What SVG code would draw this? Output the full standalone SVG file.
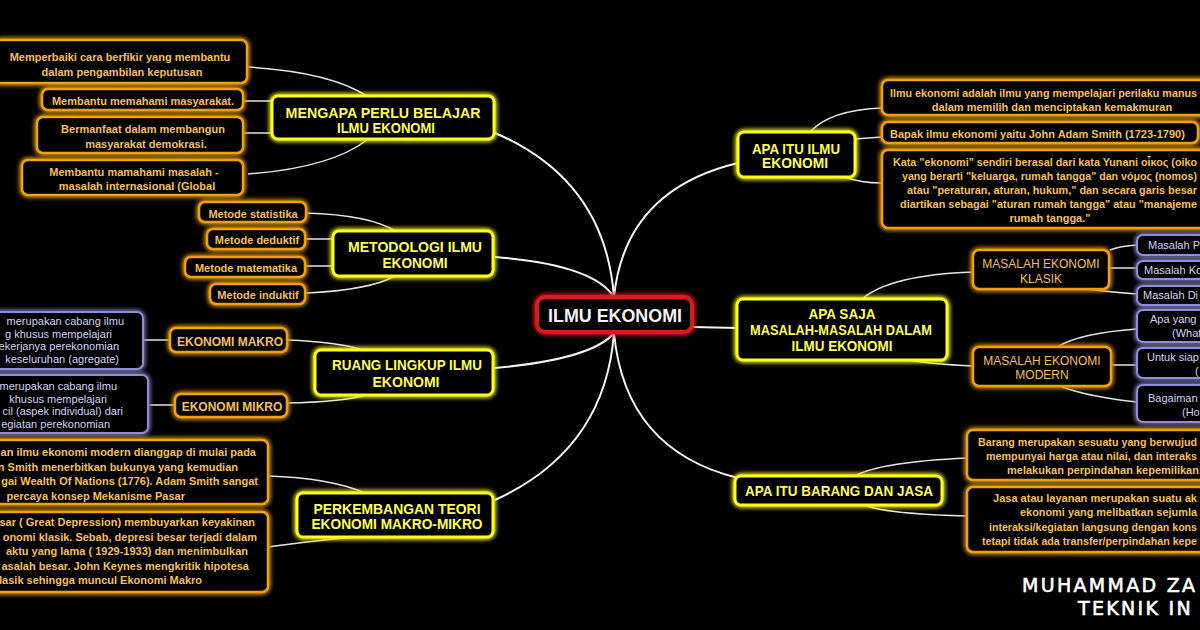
<svg xmlns="http://www.w3.org/2000/svg" width="1200" height="630" viewBox="0 0 1200 630">
<defs>
<filter id="glow" x="-30%" y="-60%" width="160%" height="220%">
<feGaussianBlur in="SourceGraphic" stdDeviation="2.6" result="b"/>
<feMerge><feMergeNode in="b"/><feMergeNode in="b"/><feMergeNode in="SourceGraphic"/></feMerge>
</filter>
<style>
.main rect{fill:#000;stroke:#ffff1a;stroke-width:3;filter:url(#glow)}
.leaf rect{fill:#000;stroke:#f0a20a;stroke-width:2.5;filter:url(#glow)}
.blue rect{fill:#000;stroke:#8e8ed8;stroke-width:2;filter:url(#glow)}
.center rect{fill:#000;stroke:#d41e24;stroke-width:4;filter:url(#glow)}
text{font-family:"Liberation Sans",Arial,sans-serif}
.main text{font-weight:bold;font-size:14px;fill:#ffff4d;text-anchor:middle}
.leaf text{font-weight:bold;font-size:11px;fill:#f5c04e;text-anchor:middle}
.blue text{font-size:11px;fill:#d2d2f6}
.center text{font-weight:bold;font-size:18px;fill:#f4f4f4;text-anchor:middle}
g text.s{text-anchor:start}
g text.e{text-anchor:end}
.conn path{fill:none;stroke:#e4e4e4;stroke-width:1.5}
.conn .m{stroke:#f4f4f4;stroke-width:2}
.author{font-family:"DejaVu Sans",sans-serif;font-size:19px;fill:#fff;stroke:#fff;stroke-width:0.6;letter-spacing:2.3px}
</style>
</defs>
<rect width="1200" height="630" fill="#000"/>

<g id="connectors" class="conn">
<path class="m" d="M495,133 Q605,180 614,297"/>
<path class="m" d="M495,257 C560,262 600,275 614,297"/>
<path class="m" d="M495,368 C560,362 600,350 614,333"/>
<path class="m" d="M495,500 Q605,450 614,333"/>
<path class="m" d="M614,297 Q625,190 738,163"/>
<path class="m" d="M692,327 L738,328"/>
<path class="m" d="M614,333 Q625,450 738,478"/>
<path d="M248,67 Q330,72 367,96"/>
<path d="M243,101 L272,101"/>
<path d="M243,133 L272,133"/>
<path d="M248,174 Q330,168 367,140"/>
<path d="M306,213 Q370,215 395,231"/>
<path d="M305,239 L333,239"/>
<path d="M305,266 L333,266"/>
<path d="M306,293 Q370,290 395,276"/>
<path d="M287,340 Q340,342 367,351"/>
<path d="M287,403 Q340,402 367,395"/>
<path d="M143,340 L170,340"/>
<path d="M148,405 L175,405"/>
<path d="M268,476 Q330,478 365,493"/>
<path d="M268,547 Q320,540 355,537"/>
<path d="M810,132 Q830,110 882,108"/>
<path d="M855,139 L882,137"/>
<path d="M845,177 Q860,183 882,183"/>
<path d="M862,299 Q890,275 973,272"/>
<path d="M910,360 Q930,364 973,366"/>
<path d="M1110,250 Q1120,246 1137,245"/>
<path d="M1109,268 L1137,268"/>
<path d="M1085,289 Q1110,292 1137,294"/>
<path d="M1057,347 Q1080,333 1137,329"/>
<path d="M1111,365 L1137,365"/>
<path d="M1062,387 Q1090,397 1137,402"/>
<path d="M855,476 Q880,462 967,458"/>
<path d="M867,506 Q890,514 967,516"/>
</g>

<g id="n-center" class="center">
<rect x="537" y="297" width="155" height="35" rx="8"/>
<text x="615" y="322" textLength="134" lengthAdjust="spacingAndGlyphs">ILMU EKONOMI</text>
</g>

<g id="n-mengapa" class="main">
<rect x="272" y="96" width="222" height="43" rx="6"/>
<text x="383" y="118" textLength="195" lengthAdjust="spacingAndGlyphs">MENGAPA PERLU BELAJAR</text>
<text x="386" y="133" textLength="98" lengthAdjust="spacingAndGlyphs">ILMU EKONOMI</text>
</g>
<g id="n-metodologi" class="main">
<rect x="333" y="231" width="160" height="45" rx="6"/>
<text x="415" y="252" textLength="134" lengthAdjust="spacingAndGlyphs">METODOLOGI ILMU</text>
<text x="415" y="268" textLength="65" lengthAdjust="spacingAndGlyphs">EKONOMI</text>
</g>
<g id="n-ruang" class="main">
<rect x="315" y="350" width="178" height="45" rx="6"/>
<text x="407" y="370" textLength="150" lengthAdjust="spacingAndGlyphs">RUANG LINGKUP ILMU</text>
<text x="406" y="387" textLength="67" lengthAdjust="spacingAndGlyphs">EKONOMI</text>
</g>
<g id="n-perkembangan" class="main">
<rect x="297" y="493" width="196" height="44" rx="6"/>
<text x="397" y="514" textLength="167" lengthAdjust="spacingAndGlyphs">PERKEMBANGAN TEORI</text>
<text x="397" y="529" textLength="171" lengthAdjust="spacingAndGlyphs">EKONOMI MAKRO-MIKRO</text>
</g>
<g id="n-apaitu" class="main">
<rect x="738" y="132" width="117" height="45" rx="6"/>
<text x="796" y="154" textLength="88" lengthAdjust="spacingAndGlyphs">APA ITU ILMU</text>
<text x="795" y="168" textLength="66" lengthAdjust="spacingAndGlyphs">EKONOMI</text>
</g>
<g id="n-apasaja" class="main">
<rect x="737" y="299" width="210" height="61" rx="6"/>
<text x="842" y="319" textLength="67" lengthAdjust="spacingAndGlyphs">APA SAJA</text>
<text x="841" y="335" textLength="182" lengthAdjust="spacingAndGlyphs">MASALAH-MASALAH DALAM</text>
<text x="842" y="351" textLength="101" lengthAdjust="spacingAndGlyphs">ILMU EKONOMI</text>
</g>
<g id="n-barang" class="main">
<rect x="735" y="476" width="207" height="29" rx="6"/>
<text x="839" y="496" textLength="188" lengthAdjust="spacingAndGlyphs">APA ITU BARANG DAN JASA</text>
</g>

<g id="l-memperbaiki" class="leaf">
<rect x="-6" y="40" width="253" height="43" rx="6"/>
<text x="120" y="61">Memperbaiki cara berfikir yang membantu</text>
<text x="122" y="76">dalam pengambilan keputusan</text>
</g>
<g id="l-masyarakat" class="leaf">
<rect x="42" y="89" width="201" height="21" rx="6"/>
<text x="143" y="105">Membantu memahami masyarakat.</text>
</g>
<g id="l-demokrasi" class="leaf">
<rect x="37" y="117" width="206" height="36" rx="6"/>
<text x="143" y="133">Bermanfaat dalam membangun</text>
<text x="146" y="148">masyarakat demokrasi.</text>
</g>
<g id="l-global" class="leaf">
<rect x="22" y="160" width="221" height="35" rx="6"/>
<text x="134" y="176">Membantu mamahami masalah -</text>
<text x="137" y="190">masalah internasional (Global</text>
</g>

<g id="l-statistika" class="leaf">
<rect x="199" y="202" width="107" height="20" rx="6"/>
<text x="253" y="218">Metode statistika</text>
</g>
<g id="l-deduktif" class="leaf">
<rect x="207" y="229" width="98" height="20" rx="6"/>
<text x="257" y="244">Metode deduktif</text>
</g>
<g id="l-matematika" class="leaf">
<rect x="185" y="257" width="120" height="20" rx="6"/>
<text x="246" y="272">Metode matematika</text>
</g>
<g id="l-induktif" class="leaf">
<rect x="210" y="284" width="95" height="20" rx="6"/>
<text x="258" y="299">Metode induktif</text>
</g>

<g id="l-makro" class="leaf">
<rect x="170" y="328" width="117" height="24" rx="6"/>
<text x="230" y="346" style="font-size:12px">EKONOMI MAKRO</text>
</g>
<g id="l-mikro" class="leaf">
<rect x="175" y="394" width="112" height="23" rx="6"/>
<text x="232" y="411" style="font-size:12px">EKONOMI MIKRO</text>
</g>
<g id="b-makro" class="blue">
<rect x="-20" y="312" width="163" height="57" rx="6"/>
<text class="e" x="124" y="325">merupakan cabang ilmu</text>
<text class="e" x="112" y="337.7">g khusus mempelajari</text>
<text class="e" x="119" y="350.3">ekerjanya perekonomian</text>
<text class="e" x="119" y="363">keseluruhan (agregate)</text>
</g>
<g id="b-mikro" class="blue">
<rect x="-20" y="375" width="168" height="58" rx="6"/>
<text class="e" x="117" y="390">merupakan cabang ilmu</text>
<text class="e" x="107" y="402.7">khusus mempelajari</text>
<text class="e" x="123" y="415.3">cil (aspek individual) dari</text>
<text class="e" x="110" y="428">egiatan perekonomian</text>
</g>

<g id="l-smith" class="leaf">
<rect x="-20" y="440" width="288" height="64" rx="6"/>
<text class="e" x="256" y="456">an ilmu ekonomi modern dianggap di mulai pada</text>
<text class="e" x="238" y="470.7">n Smith menerbitkan bukunya yang kemudian</text>
<text class="e" x="258" y="485.3">gai Wealth Of Nations (1776). Adam Smith sangat</text>
<text class="e" x="185" y="500">percaya konsep Mekanisme Pasar</text>
</g>
<g id="l-depresi" class="leaf">
<rect x="-20" y="512" width="288" height="80" rx="6"/>
<text class="e" x="255" y="526">sar ( Great Depression) membuyarkan keyakinan</text>
<text class="e" x="257" y="540.5">onomi klasik. Sebab, depresi besar terjadi dalam</text>
<text class="e" x="248" y="555">aktu yang lama ( 1929-1933) dan menimbulkan</text>
<text class="e" x="249" y="569.5">asalah besar. John Keynes mengkritik hipotesa</text>
<text class="e" x="202" y="584">lasik sehingga muncul Ekonomi Makro</text>
</g>

<g id="r-definisi" class="leaf">
<rect x="882" y="80" width="330" height="35" rx="6"/>
<text class="s" x="890" y="97" textLength="307" lengthAdjust="spacingAndGlyphs">Ilmu ekonomi adalah ilmu yang mempelajari perilaku manus</text>
<text x="1052" y="111">dalam memilih dan menciptakan kemakmuran</text>
</g>
<g id="r-bapak" class="leaf">
<rect x="882" y="122" width="316" height="21" rx="6"/>
<text class="s" x="890" y="138">Bapak ilmu ekonomi yaitu John Adam Smith (1723-1790)</text>
</g>
<g id="r-asal" class="leaf">
<rect x="882" y="150" width="330" height="78" rx="6"/>
<text class="s" x="893" y="166" textLength="304" lengthAdjust="spacingAndGlyphs">Kata "ekonomi" sendiri berasal dari kata Yunani οἶκος (oiko</text>
<text class="s" x="902" y="180" textLength="295" lengthAdjust="spacingAndGlyphs">yang berarti "keluarga, rumah tangga" dan νόμος (nomos)</text>
<text class="s" x="907" y="194" textLength="290" lengthAdjust="spacingAndGlyphs">atau "peraturan, aturan, hukum," dan secara garis besar</text>
<text class="s" x="900" y="208" textLength="297" lengthAdjust="spacingAndGlyphs">diartikan sebagai "aturan rumah tangga" atau "manajeme</text>
<text x="1050" y="222">rumah tangga."</text>
</g>

<g id="l-klasik" class="leaf">
<rect x="973" y="250" width="136" height="39" rx="6"/>
<text x="1041" y="268" style="font-size:12px;font-weight:normal">MASALAH EKONOMI</text>
<text x="1041" y="283" style="font-size:12px;font-weight:normal">KLASIK</text>
</g>
<g id="l-modern" class="leaf">
<rect x="973" y="347" width="138" height="39" rx="6"/>
<text x="1042" y="365" style="font-size:12px;font-weight:normal">MASALAH EKONOMI</text>
<text x="1042" y="379" style="font-size:12px;font-weight:normal">MODERN</text>
</g>

<g id="b-produksi" class="blue">
<rect x="1137" y="235" width="100" height="20" rx="6"/>
<text class="s" x="1148" y="249">Masalah P</text>
</g>
<g id="b-konsumsi" class="blue">
<rect x="1137" y="261" width="100" height="18" rx="6"/>
<text class="s" x="1144" y="274">Masalah Ko</text>
</g>
<g id="b-distribusi" class="blue">
<rect x="1137" y="286" width="100" height="19" rx="6"/>
<text class="s" x="1143" y="299">Masalah Di</text>
</g>
<g id="b-what" class="blue">
<rect x="1137" y="310" width="100" height="32" rx="6"/>
<text class="s" x="1150" y="323">Apa yang</text>
<text class="s" x="1172" y="337">(What</text>
</g>
<g id="b-whom" class="blue">
<rect x="1137" y="348" width="100" height="30" rx="6"/>
<text class="s" x="1147" y="361">Untuk siap</text>
<text class="s" x="1195" y="375">(</text>
</g>
<g id="b-how" class="blue">
<rect x="1137" y="385" width="100" height="37" rx="6"/>
<text class="s" x="1148" y="402">Bagaiman</text>
<text class="s" x="1182" y="416">(Ho</text>
</g>

<g id="r-barang" class="leaf">
<rect x="967" y="430" width="250" height="50" rx="6"/>
<text class="s" x="978" y="446" textLength="219" lengthAdjust="spacingAndGlyphs">Barang merupakan sesuatu yang berwujud</text>
<text class="s" x="986" y="460" textLength="211" lengthAdjust="spacingAndGlyphs">mempunyai harga atau nilai, dan interaks</text>
<text class="s" x="1007" y="474">melakukan perpindahan kepemilikan.</text>
</g>
<g id="r-jasa" class="leaf">
<rect x="967" y="487" width="250" height="65" rx="6"/>
<text class="s" x="993" y="502" textLength="204" lengthAdjust="spacingAndGlyphs">Jasa atau layanan merupakan suatu ak</text>
<text class="s" x="1020" y="516" textLength="177" lengthAdjust="spacingAndGlyphs">ekonomi yang melibatkan sejumla</text>
<text class="s" x="989" y="531" textLength="208" lengthAdjust="spacingAndGlyphs">interaksi/kegiatan langsung dengan kons</text>
<text class="s" x="982" y="545" textLength="215" lengthAdjust="spacingAndGlyphs">tetapi tidak ada transfer/perpindahan kepe</text>
</g>

<g id="author">
<text class="author" x="1022" y="592">MUHAMMAD ZA</text>
<text class="author" x="1078" y="615">TEKNIK IN</text>
</g>
</svg>
